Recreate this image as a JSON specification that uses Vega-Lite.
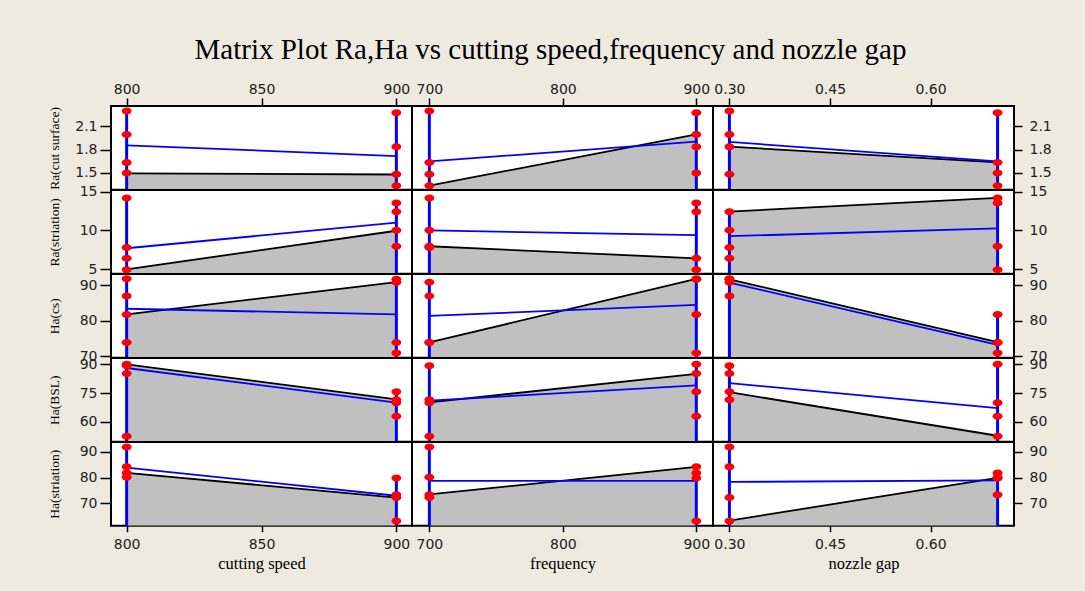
{
"$schema": "https://vega.github.io/schema/vega-lite/v6.json",
"background": "#EEEAE0",
"padding": {"left": 46, "top": 36, "right": 30, "bottom": 18},
"bounds": "flush",
"spacing": 0,
"columns": 3,
"title": {"text": "Matrix Plot Ra,Ha vs cutting speed,frequency and nozzle gap", "font": "Liberation Serif", "fontSize": 29, "fontWeight": "normal", "color": "black", "anchor": "middle", "frame": "bounds", "offset": 16},
"datasets": {
"runs": [
{"speed":800,"freq":700,"gap":0.30,"rcs":2.298,"rst":7.80,"hcs":87.0,"hbsl":89.2,"hst":91.9},
{"speed":800,"freq":900,"gap":0.30,"rcs":1.997,"rst":6.42,"hcs":91.85,"hbsl":85.2,"hst":84.2},
{"speed":800,"freq":700,"gap":0.70,"rcs":1.636,"rst":14.18,"hcs":73.9,"hbsl":52.6,"hst":80.1},
{"speed":800,"freq":900,"gap":0.70,"rcs":1.50,"rst":4.95,"hcs":81.8,"hbsl":90.0,"hst":81.8},
{"speed":900,"freq":900,"gap":0.70,"rcs":2.277,"rst":13.53,"hcs":70.9,"hbsl":62.95,"hst":79.85},
{"speed":900,"freq":900,"gap":0.30,"rcs":1.839,"rst":12.42,"hcs":91.7,"hbsl":75.7,"hst":63.0},
{"speed":900,"freq":700,"gap":0.30,"rcs":1.482,"rst":10.04,"hcs":90.9,"hbsl":71.6,"hst":72.2},
{"speed":900,"freq":700,"gap":0.70,"rcs":1.336,"rst":7.97,"hcs":73.9,"hbsl":70.0,"hst":73.3}
],
"lines": [
{"p":"11","k":"m","speed":800,"rcs":1.856},{"p":"11","k":"m","speed":900,"rcs":1.718},
{"p":"11","k":"b","speed":800,"rcs":1.495},{"p":"11","k":"b","speed":900,"rcs":1.48},
{"p":"11","k":"t","speed":800,"rcs":2.298},{"p":"11","k":"t","speed":900,"rcs":2.277},
{"p":"12","k":"m","freq":700,"rcs":1.649},{"p":"12","k":"m","freq":900,"rcs":1.903},
{"p":"12","k":"b","freq":700,"rcs":1.336},{"p":"12","k":"b","freq":900,"rcs":1.997},
{"p":"12","k":"t","freq":700,"rcs":2.298},{"p":"12","k":"t","freq":900,"rcs":2.277},
{"p":"13","k":"m","gap":0.30,"rcs":1.90},{"p":"13","k":"m","gap":0.70,"rcs":1.649},
{"p":"13","k":"b","gap":0.30,"rcs":1.839},{"p":"13","k":"b","gap":0.70,"rcs":1.636},
{"p":"13","k":"t","gap":0.30,"rcs":2.298},{"p":"13","k":"t","gap":0.70,"rcs":2.277},
{"p":"21","k":"m","speed":800,"rst":7.71},{"p":"21","k":"m","speed":900,"rst":11.0},
{"p":"21","k":"b","speed":800,"rst":5.0},{"p":"21","k":"b","speed":900,"rst":9.96},
{"p":"21","k":"t","speed":800,"rst":14.18},{"p":"21","k":"t","speed":900,"rst":13.53},
{"p":"22","k":"m","freq":700,"rst":10.0},{"p":"22","k":"m","freq":900,"rst":9.4},
{"p":"22","k":"b","freq":700,"rst":7.97},{"p":"22","k":"b","freq":900,"rst":6.42},
{"p":"22","k":"t","freq":700,"rst":14.18},{"p":"22","k":"t","freq":900,"rst":13.53},
{"p":"23","k":"m","gap":0.30,"rst":9.26},{"p":"23","k":"m","gap":0.70,"rst":10.26},
{"p":"23","k":"b","gap":0.30,"rst":12.42},{"p":"23","k":"b","gap":0.70,"rst":14.18},
{"p":"23","k":"t","gap":0.30,"rst":12.42},{"p":"23","k":"t","gap":0.70,"rst":14.18},
{"p":"31","k":"m","speed":800,"hcs":83.4},{"p":"31","k":"m","speed":900,"hcs":81.8},
{"p":"31","k":"b","speed":800,"hcs":81.8},{"p":"31","k":"b","speed":900,"hcs":90.9},
{"p":"31","k":"t","speed":800,"hcs":91.85},{"p":"31","k":"t","speed":900,"hcs":91.7},
{"p":"32","k":"m","freq":700,"hcs":81.4},{"p":"32","k":"m","freq":900,"hcs":84.5},
{"p":"32","k":"b","freq":700,"hcs":73.9},{"p":"32","k":"b","freq":900,"hcs":91.85},
{"p":"32","k":"t","freq":700,"hcs":90.9},{"p":"32","k":"t","freq":900,"hcs":91.85},
{"p":"33","k":"m","gap":0.30,"hcs":90.8},{"p":"33","k":"m","gap":0.70,"hcs":73.2},
{"p":"33","k":"b","gap":0.30,"hcs":91.7},{"p":"33","k":"b","gap":0.70,"hcs":74.0},
{"p":"33","k":"t","gap":0.30,"hcs":91.85},{"p":"33","k":"t","gap":0.70,"hcs":81.8},
{"p":"41","k":"m","speed":800,"hbsl":88.1},{"p":"41","k":"m","speed":900,"hbsl":70.0},
{"p":"41","k":"b","speed":800,"hbsl":90.0},{"p":"41","k":"b","speed":900,"hbsl":71.8},
{"p":"41","k":"t","speed":800,"hbsl":90.0},{"p":"41","k":"t","speed":900,"hbsl":75.7},
{"p":"42","k":"m","freq":700,"hbsl":71.1},{"p":"42","k":"m","freq":900,"hbsl":79.0},
{"p":"42","k":"b","freq":700,"hbsl":70.2},{"p":"42","k":"b","freq":900,"hbsl":85.0},
{"p":"42","k":"t","freq":700,"hbsl":89.2},{"p":"42","k":"t","freq":900,"hbsl":90.0},
{"p":"43","k":"m","gap":0.30,"hbsl":80.2},{"p":"43","k":"m","gap":0.70,"hbsl":67.2},
{"p":"43","k":"b","gap":0.30,"hbsl":75.5},{"p":"43","k":"b","gap":0.70,"hbsl":52.8},
{"p":"43","k":"t","gap":0.30,"hbsl":89.2},{"p":"43","k":"t","gap":0.70,"hbsl":90.0},
{"p":"51","k":"m","speed":800,"hst":83.9},{"p":"51","k":"m","speed":900,"hst":72.9},
{"p":"51","k":"b","speed":800,"hst":81.8},{"p":"51","k":"b","speed":900,"hst":72.2},
{"p":"51","k":"t","speed":800,"hst":91.9},{"p":"51","k":"t","speed":900,"hst":79.85},
{"p":"52","k":"m","freq":700,"hst":78.7},{"p":"52","k":"m","freq":900,"hst":78.7},
{"p":"52","k":"b","freq":700,"hst":73.4},{"p":"52","k":"b","freq":900,"hst":84.2},
{"p":"52","k":"t","freq":700,"hst":91.9},{"p":"52","k":"t","freq":900,"hst":84.2},
{"p":"53","k":"m","gap":0.30,"hst":78.3},{"p":"53","k":"m","gap":0.70,"hst":78.9},
{"p":"53","k":"b","gap":0.30,"hst":63.2},{"p":"53","k":"b","gap":0.70,"hst":79.9},
{"p":"53","k":"t","gap":0.30,"hst":91.9},{"p":"53","k":"t","gap":0.70,"hst":81.8}
]
},
"concat": [
{"width": 301, "height": 83.7,
 "encoding": {"x": {"field": "speed", "type": "quantitative", "scale": {"domain": [794.2, 905.8], "nice": false, "zero": false}, "axis": {"orient": "top", "values": [800, 850, 900], "title": null, "tickSize": 8, "labelPadding": 2}},
  "y": {"field": "rcs", "type": "quantitative", "scale": {"domain": [1.284, 2.363], "nice": false, "zero": false}, "axis": {"orient": "left", "values": [1.5, 1.8, 2.1], "format": ".1f", "title": "Ra(cut surface)", "tickSize": 11, "labelPadding": 3, "minExtent": 40, "maxExtent": 40, "titlePadding": 10}}},
 "layer": [
  {"data": {"name": "lines"}, "transform": [{"filter": "datum.p=='11'&&datum.k=='b'"}], "mark": {"type": "area", "color": "#C0C0C0", "opacity": 1, "clip": true, "line": {"color": "black", "strokeWidth": 1.8}}, "encoding": {"y2": {"datum": 1.284}}},
  {"data": {"name": "lines"}, "transform": [{"filter": "datum.p=='11'&&datum.k=='t'"}], "mark": {"type": "rule", "color": "#0000FF", "strokeWidth": 3}, "encoding": {"y2": {"datum": 1.284}}},
  {"data": {"name": "lines"}, "transform": [{"filter": "datum.p=='11'&&datum.k=='m'"}], "mark": {"type": "line", "color": "#0000FF", "strokeWidth": 1.8}},
  {"data": {"name": "runs"}, "mark": {"type": "point", "shape": "M -1 0 A 1 0.7 0 1 0 1 0 A 1 0.7 0 1 0 -1 0 Z", "filled": true, "color": "#FF0000", "opacity": 1, "size": 100}}
 ]},
{"width": 301, "height": 83.7,
 "encoding": {"x": {"field": "freq", "type": "quantitative", "scale": {"domain": [687, 912.5], "nice": false, "zero": false}, "axis": {"orient": "top", "values": [700, 800, 900], "title": null, "tickSize": 8, "labelPadding": 2}},
  "y": {"field": "rcs", "type": "quantitative", "scale": {"domain": [1.284, 2.363], "nice": false, "zero": false}, "axis": null}},
 "layer": [
  {"data": {"name": "lines"}, "transform": [{"filter": "datum.p=='12'&&datum.k=='b'"}], "mark": {"type": "area", "color": "#C0C0C0", "opacity": 1, "clip": true, "line": {"color": "black", "strokeWidth": 1.8}}, "encoding": {"y2": {"datum": 1.284}}},
  {"data": {"name": "lines"}, "transform": [{"filter": "datum.p=='12'&&datum.k=='t'"}], "mark": {"type": "rule", "color": "#0000FF", "strokeWidth": 3}, "encoding": {"y2": {"datum": 1.284}}},
  {"data": {"name": "lines"}, "transform": [{"filter": "datum.p=='12'&&datum.k=='m'"}], "mark": {"type": "line", "color": "#0000FF", "strokeWidth": 1.8}},
  {"data": {"name": "runs"}, "mark": {"type": "point", "shape": "M -1 0 A 1 0.7 0 1 0 1 0 A 1 0.7 0 1 0 -1 0 Z", "filled": true, "color": "#FF0000", "opacity": 1, "size": 100}}
 ]},
{"width": 301, "height": 83.7,
 "encoding": {"x": {"field": "gap", "type": "quantitative", "scale": {"domain": [0.2755, 0.7245], "nice": false, "zero": false}, "axis": {"orient": "top", "values": [0.3, 0.45, 0.6], "format": ".2f", "title": null, "tickSize": 8, "labelPadding": 2}},
  "y": {"field": "rcs", "type": "quantitative", "scale": {"domain": [1.284, 2.363], "nice": false, "zero": false}, "axis": {"orient": "right", "values": [1.5, 1.8, 2.1], "format": ".1f", "title": null, "tickSize": 8, "labelPadding": 7, "minExtent": 40, "maxExtent": 40}}},
 "layer": [
  {"data": {"name": "lines"}, "transform": [{"filter": "datum.p=='13'&&datum.k=='b'"}], "mark": {"type": "area", "color": "#C0C0C0", "opacity": 1, "clip": true, "line": {"color": "black", "strokeWidth": 1.8}}, "encoding": {"y2": {"datum": 1.284}}},
  {"data": {"name": "lines"}, "transform": [{"filter": "datum.p=='13'&&datum.k=='t'"}], "mark": {"type": "rule", "color": "#0000FF", "strokeWidth": 3}, "encoding": {"y2": {"datum": 1.284}}},
  {"data": {"name": "lines"}, "transform": [{"filter": "datum.p=='13'&&datum.k=='m'"}], "mark": {"type": "line", "color": "#0000FF", "strokeWidth": 1.8}},
  {"data": {"name": "runs"}, "mark": {"type": "point", "shape": "M -1 0 A 1 0.7 0 1 0 1 0 A 1 0.7 0 1 0 -1 0 Z", "filled": true, "color": "#FF0000", "opacity": 1, "size": 100}}
 ]},
{"width": 301, "height": 83.7,
 "encoding": {"x": {"field": "speed", "type": "quantitative", "scale": {"domain": [794.2, 905.8], "nice": false, "zero": false}, "axis": null},
  "y": {"field": "rst", "type": "quantitative", "scale": {"domain": [4.44, 15.2], "nice": false, "zero": false}, "axis": {"orient": "left", "values": [5, 10, 15], "title": "Ra(striation)", "tickSize": 11, "labelPadding": 3, "minExtent": 40, "maxExtent": 40, "titlePadding": 10}}},
 "layer": [
  {"data": {"name": "lines"}, "transform": [{"filter": "datum.p=='21'&&datum.k=='b'"}], "mark": {"type": "area", "color": "#C0C0C0", "opacity": 1, "clip": true, "line": {"color": "black", "strokeWidth": 1.8}}, "encoding": {"y2": {"datum": 4.44}}},
  {"data": {"name": "lines"}, "transform": [{"filter": "datum.p=='21'&&datum.k=='t'"}], "mark": {"type": "rule", "color": "#0000FF", "strokeWidth": 3}, "encoding": {"y2": {"datum": 4.44}}},
  {"data": {"name": "lines"}, "transform": [{"filter": "datum.p=='21'&&datum.k=='m'"}], "mark": {"type": "line", "color": "#0000FF", "strokeWidth": 1.8}},
  {"data": {"name": "runs"}, "mark": {"type": "point", "shape": "M -1 0 A 1 0.7 0 1 0 1 0 A 1 0.7 0 1 0 -1 0 Z", "filled": true, "color": "#FF0000", "opacity": 1, "size": 100}}
 ]},
{"width": 301, "height": 83.7,
 "encoding": {"x": {"field": "freq", "type": "quantitative", "scale": {"domain": [687, 912.5], "nice": false, "zero": false}, "axis": null},
  "y": {"field": "rst", "type": "quantitative", "scale": {"domain": [4.44, 15.2], "nice": false, "zero": false}, "axis": null}},
 "layer": [
  {"data": {"name": "lines"}, "transform": [{"filter": "datum.p=='22'&&datum.k=='b'"}], "mark": {"type": "area", "color": "#C0C0C0", "opacity": 1, "clip": true, "line": {"color": "black", "strokeWidth": 1.8}}, "encoding": {"y2": {"datum": 4.44}}},
  {"data": {"name": "lines"}, "transform": [{"filter": "datum.p=='22'&&datum.k=='t'"}], "mark": {"type": "rule", "color": "#0000FF", "strokeWidth": 3}, "encoding": {"y2": {"datum": 4.44}}},
  {"data": {"name": "lines"}, "transform": [{"filter": "datum.p=='22'&&datum.k=='m'"}], "mark": {"type": "line", "color": "#0000FF", "strokeWidth": 1.8}},
  {"data": {"name": "runs"}, "mark": {"type": "point", "shape": "M -1 0 A 1 0.7 0 1 0 1 0 A 1 0.7 0 1 0 -1 0 Z", "filled": true, "color": "#FF0000", "opacity": 1, "size": 100}}
 ]},
{"width": 301, "height": 83.7,
 "encoding": {"x": {"field": "gap", "type": "quantitative", "scale": {"domain": [0.2755, 0.7245], "nice": false, "zero": false}, "axis": null},
  "y": {"field": "rst", "type": "quantitative", "scale": {"domain": [4.44, 15.2], "nice": false, "zero": false}, "axis": {"orient": "right", "values": [5, 10, 15], "title": null, "tickSize": 8, "labelPadding": 7, "minExtent": 40, "maxExtent": 40}}},
 "layer": [
  {"data": {"name": "lines"}, "transform": [{"filter": "datum.p=='23'&&datum.k=='b'"}], "mark": {"type": "area", "color": "#C0C0C0", "opacity": 1, "clip": true, "line": {"color": "black", "strokeWidth": 1.8}}, "encoding": {"y2": {"datum": 4.44}}},
  {"data": {"name": "lines"}, "transform": [{"filter": "datum.p=='23'&&datum.k=='t'"}], "mark": {"type": "rule", "color": "#0000FF", "strokeWidth": 3}, "encoding": {"y2": {"datum": 4.44}}},
  {"data": {"name": "lines"}, "transform": [{"filter": "datum.p=='23'&&datum.k=='m'"}], "mark": {"type": "line", "color": "#0000FF", "strokeWidth": 1.8}},
  {"data": {"name": "runs"}, "mark": {"type": "point", "shape": "M -1 0 A 1 0.7 0 1 0 1 0 A 1 0.7 0 1 0 -1 0 Z", "filled": true, "color": "#FF0000", "opacity": 1, "size": 100}}
 ]},
{"width": 301, "height": 83.7,
 "encoding": {"x": {"field": "speed", "type": "quantitative", "scale": {"domain": [794.2, 905.8], "nice": false, "zero": false}, "axis": null},
  "y": {"field": "hcs", "type": "quantitative", "scale": {"domain": [69.6, 93.2], "nice": false, "zero": false}, "axis": {"orient": "left", "values": [70, 80, 90], "title": "Ha(cs)", "tickSize": 11, "labelPadding": 3, "minExtent": 40, "maxExtent": 40, "titlePadding": 10}}},
 "layer": [
  {"data": {"name": "lines"}, "transform": [{"filter": "datum.p=='31'&&datum.k=='b'"}], "mark": {"type": "area", "color": "#C0C0C0", "opacity": 1, "clip": true, "line": {"color": "black", "strokeWidth": 1.8}}, "encoding": {"y2": {"datum": 69.6}}},
  {"data": {"name": "lines"}, "transform": [{"filter": "datum.p=='31'&&datum.k=='t'"}], "mark": {"type": "rule", "color": "#0000FF", "strokeWidth": 3}, "encoding": {"y2": {"datum": 69.6}}},
  {"data": {"name": "lines"}, "transform": [{"filter": "datum.p=='31'&&datum.k=='m'"}], "mark": {"type": "line", "color": "#0000FF", "strokeWidth": 1.8}},
  {"data": {"name": "runs"}, "mark": {"type": "point", "shape": "M -1 0 A 1 0.7 0 1 0 1 0 A 1 0.7 0 1 0 -1 0 Z", "filled": true, "color": "#FF0000", "opacity": 1, "size": 100}}
 ]},
{"width": 301, "height": 83.7,
 "encoding": {"x": {"field": "freq", "type": "quantitative", "scale": {"domain": [687, 912.5], "nice": false, "zero": false}, "axis": null},
  "y": {"field": "hcs", "type": "quantitative", "scale": {"domain": [69.6, 93.2], "nice": false, "zero": false}, "axis": null}},
 "layer": [
  {"data": {"name": "lines"}, "transform": [{"filter": "datum.p=='32'&&datum.k=='b'"}], "mark": {"type": "area", "color": "#C0C0C0", "opacity": 1, "clip": true, "line": {"color": "black", "strokeWidth": 1.8}}, "encoding": {"y2": {"datum": 69.6}}},
  {"data": {"name": "lines"}, "transform": [{"filter": "datum.p=='32'&&datum.k=='t'"}], "mark": {"type": "rule", "color": "#0000FF", "strokeWidth": 3}, "encoding": {"y2": {"datum": 69.6}}},
  {"data": {"name": "lines"}, "transform": [{"filter": "datum.p=='32'&&datum.k=='m'"}], "mark": {"type": "line", "color": "#0000FF", "strokeWidth": 1.8}},
  {"data": {"name": "runs"}, "mark": {"type": "point", "shape": "M -1 0 A 1 0.7 0 1 0 1 0 A 1 0.7 0 1 0 -1 0 Z", "filled": true, "color": "#FF0000", "opacity": 1, "size": 100}}
 ]},
{"width": 301, "height": 83.7,
 "encoding": {"x": {"field": "gap", "type": "quantitative", "scale": {"domain": [0.2755, 0.7245], "nice": false, "zero": false}, "axis": null},
  "y": {"field": "hcs", "type": "quantitative", "scale": {"domain": [69.6, 93.2], "nice": false, "zero": false}, "axis": {"orient": "right", "values": [70, 80, 90], "title": null, "tickSize": 8, "labelPadding": 7, "minExtent": 40, "maxExtent": 40}}},
 "layer": [
  {"data": {"name": "lines"}, "transform": [{"filter": "datum.p=='33'&&datum.k=='b'"}], "mark": {"type": "area", "color": "#C0C0C0", "opacity": 1, "clip": true, "line": {"color": "black", "strokeWidth": 1.8}}, "encoding": {"y2": {"datum": 69.6}}},
  {"data": {"name": "lines"}, "transform": [{"filter": "datum.p=='33'&&datum.k=='t'"}], "mark": {"type": "rule", "color": "#0000FF", "strokeWidth": 3}, "encoding": {"y2": {"datum": 69.6}}},
  {"data": {"name": "lines"}, "transform": [{"filter": "datum.p=='33'&&datum.k=='m'"}], "mark": {"type": "line", "color": "#0000FF", "strokeWidth": 1.8}},
  {"data": {"name": "runs"}, "mark": {"type": "point", "shape": "M -1 0 A 1 0.7 0 1 0 1 0 A 1 0.7 0 1 0 -1 0 Z", "filled": true, "color": "#FF0000", "opacity": 1, "size": 100}}
 ]},
{"width": 301, "height": 83.7,
 "encoding": {"x": {"field": "speed", "type": "quantitative", "scale": {"domain": [794.2, 905.8], "nice": false, "zero": false}, "axis": null},
  "y": {"field": "hbsl", "type": "quantitative", "scale": {"domain": [49.7, 93.3], "nice": false, "zero": false}, "axis": {"orient": "left", "values": [60, 75, 90], "title": "Ha(BSL)", "tickSize": 11, "labelPadding": 3, "minExtent": 40, "maxExtent": 40, "titlePadding": 10}}},
 "layer": [
  {"data": {"name": "lines"}, "transform": [{"filter": "datum.p=='41'&&datum.k=='b'"}], "mark": {"type": "area", "color": "#C0C0C0", "opacity": 1, "clip": true, "line": {"color": "black", "strokeWidth": 1.8}}, "encoding": {"y2": {"datum": 49.7}}},
  {"data": {"name": "lines"}, "transform": [{"filter": "datum.p=='41'&&datum.k=='t'"}], "mark": {"type": "rule", "color": "#0000FF", "strokeWidth": 3}, "encoding": {"y2": {"datum": 49.7}}},
  {"data": {"name": "lines"}, "transform": [{"filter": "datum.p=='41'&&datum.k=='m'"}], "mark": {"type": "line", "color": "#0000FF", "strokeWidth": 1.8}},
  {"data": {"name": "runs"}, "mark": {"type": "point", "shape": "M -1 0 A 1 0.7 0 1 0 1 0 A 1 0.7 0 1 0 -1 0 Z", "filled": true, "color": "#FF0000", "opacity": 1, "size": 100}}
 ]},
{"width": 301, "height": 83.7,
 "encoding": {"x": {"field": "freq", "type": "quantitative", "scale": {"domain": [687, 912.5], "nice": false, "zero": false}, "axis": null},
  "y": {"field": "hbsl", "type": "quantitative", "scale": {"domain": [49.7, 93.3], "nice": false, "zero": false}, "axis": null}},
 "layer": [
  {"data": {"name": "lines"}, "transform": [{"filter": "datum.p=='42'&&datum.k=='b'"}], "mark": {"type": "area", "color": "#C0C0C0", "opacity": 1, "clip": true, "line": {"color": "black", "strokeWidth": 1.8}}, "encoding": {"y2": {"datum": 49.7}}},
  {"data": {"name": "lines"}, "transform": [{"filter": "datum.p=='42'&&datum.k=='t'"}], "mark": {"type": "rule", "color": "#0000FF", "strokeWidth": 3}, "encoding": {"y2": {"datum": 49.7}}},
  {"data": {"name": "lines"}, "transform": [{"filter": "datum.p=='42'&&datum.k=='m'"}], "mark": {"type": "line", "color": "#0000FF", "strokeWidth": 1.8}},
  {"data": {"name": "runs"}, "mark": {"type": "point", "shape": "M -1 0 A 1 0.7 0 1 0 1 0 A 1 0.7 0 1 0 -1 0 Z", "filled": true, "color": "#FF0000", "opacity": 1, "size": 100}}
 ]},
{"width": 301, "height": 83.7,
 "encoding": {"x": {"field": "gap", "type": "quantitative", "scale": {"domain": [0.2755, 0.7245], "nice": false, "zero": false}, "axis": null},
  "y": {"field": "hbsl", "type": "quantitative", "scale": {"domain": [49.7, 93.3], "nice": false, "zero": false}, "axis": {"orient": "right", "values": [60, 75, 90], "title": null, "tickSize": 8, "labelPadding": 7, "minExtent": 40, "maxExtent": 40}}},
 "layer": [
  {"data": {"name": "lines"}, "transform": [{"filter": "datum.p=='43'&&datum.k=='b'"}], "mark": {"type": "area", "color": "#C0C0C0", "opacity": 1, "clip": true, "line": {"color": "black", "strokeWidth": 1.8}}, "encoding": {"y2": {"datum": 49.7}}},
  {"data": {"name": "lines"}, "transform": [{"filter": "datum.p=='43'&&datum.k=='t'"}], "mark": {"type": "rule", "color": "#0000FF", "strokeWidth": 3}, "encoding": {"y2": {"datum": 49.7}}},
  {"data": {"name": "lines"}, "transform": [{"filter": "datum.p=='43'&&datum.k=='m'"}], "mark": {"type": "line", "color": "#0000FF", "strokeWidth": 1.8}},
  {"data": {"name": "runs"}, "mark": {"type": "point", "shape": "M -1 0 A 1 0.7 0 1 0 1 0 A 1 0.7 0 1 0 -1 0 Z", "filled": true, "color": "#FF0000", "opacity": 1, "size": 100}}
 ]},
{"width": 301, "height": 83.7,
 "encoding": {"x": {"field": "speed", "type": "quantitative", "scale": {"domain": [794.2, 905.8], "nice": false, "zero": false}, "axis": {"orient": "bottom", "values": [800, 850, 900], "title": "cutting speed", "tickSize": 6, "labelPadding": 6, "titlePadding": 4, "titleFontSize": 16.5}},
  "y": {"field": "hst", "type": "quantitative", "scale": {"domain": [61.2, 93.9], "nice": false, "zero": false}, "axis": {"orient": "left", "values": [70, 80, 90], "title": "Ha(striation)", "tickSize": 11, "labelPadding": 3, "minExtent": 40, "maxExtent": 40, "titlePadding": 10}}},
 "layer": [
  {"data": {"name": "lines"}, "transform": [{"filter": "datum.p=='51'&&datum.k=='b'"}], "mark": {"type": "area", "color": "#C0C0C0", "opacity": 1, "clip": true, "line": {"color": "black", "strokeWidth": 1.8}}, "encoding": {"y2": {"datum": 61.2}}},
  {"data": {"name": "lines"}, "transform": [{"filter": "datum.p=='51'&&datum.k=='t'"}], "mark": {"type": "rule", "color": "#0000FF", "strokeWidth": 3}, "encoding": {"y2": {"datum": 61.2}}},
  {"data": {"name": "lines"}, "transform": [{"filter": "datum.p=='51'&&datum.k=='m'"}], "mark": {"type": "line", "color": "#0000FF", "strokeWidth": 1.8}},
  {"data": {"name": "runs"}, "mark": {"type": "point", "shape": "M -1 0 A 1 0.7 0 1 0 1 0 A 1 0.7 0 1 0 -1 0 Z", "filled": true, "color": "#FF0000", "opacity": 1, "size": 100}}
 ]},
{"width": 301, "height": 83.7,
 "encoding": {"x": {"field": "freq", "type": "quantitative", "scale": {"domain": [687, 912.5], "nice": false, "zero": false}, "axis": {"orient": "bottom", "values": [700, 800, 900], "title": "frequency", "tickSize": 6, "labelPadding": 6, "titlePadding": 4, "titleFontSize": 16.5}},
  "y": {"field": "hst", "type": "quantitative", "scale": {"domain": [61.2, 93.9], "nice": false, "zero": false}, "axis": null}},
 "layer": [
  {"data": {"name": "lines"}, "transform": [{"filter": "datum.p=='52'&&datum.k=='b'"}], "mark": {"type": "area", "color": "#C0C0C0", "opacity": 1, "clip": true, "line": {"color": "black", "strokeWidth": 1.8}}, "encoding": {"y2": {"datum": 61.2}}},
  {"data": {"name": "lines"}, "transform": [{"filter": "datum.p=='52'&&datum.k=='t'"}], "mark": {"type": "rule", "color": "#0000FF", "strokeWidth": 3}, "encoding": {"y2": {"datum": 61.2}}},
  {"data": {"name": "lines"}, "transform": [{"filter": "datum.p=='52'&&datum.k=='m'"}], "mark": {"type": "line", "color": "#0000FF", "strokeWidth": 1.8}},
  {"data": {"name": "runs"}, "mark": {"type": "point", "shape": "M -1 0 A 1 0.7 0 1 0 1 0 A 1 0.7 0 1 0 -1 0 Z", "filled": true, "color": "#FF0000", "opacity": 1, "size": 100}}
 ]},
{"width": 301, "height": 83.7,
 "encoding": {"x": {"field": "gap", "type": "quantitative", "scale": {"domain": [0.2755, 0.7245], "nice": false, "zero": false}, "axis": {"orient": "bottom", "values": [0.3, 0.45, 0.6], "format": ".2f", "title": "nozzle gap", "tickSize": 6, "labelPadding": 6, "titlePadding": 4, "titleFontSize": 16.5}},
  "y": {"field": "hst", "type": "quantitative", "scale": {"domain": [61.2, 93.9], "nice": false, "zero": false}, "axis": {"orient": "right", "values": [70, 80, 90], "title": null, "tickSize": 8, "labelPadding": 7, "minExtent": 40, "maxExtent": 40}}},
 "layer": [
  {"data": {"name": "lines"}, "transform": [{"filter": "datum.p=='53'&&datum.k=='b'"}], "mark": {"type": "area", "color": "#C0C0C0", "opacity": 1, "clip": true, "line": {"color": "black", "strokeWidth": 1.8}}, "encoding": {"y2": {"datum": 61.2}}},
  {"data": {"name": "lines"}, "transform": [{"filter": "datum.p=='53'&&datum.k=='t'"}], "mark": {"type": "rule", "color": "#0000FF", "strokeWidth": 3}, "encoding": {"y2": {"datum": 61.2}}},
  {"data": {"name": "lines"}, "transform": [{"filter": "datum.p=='53'&&datum.k=='m'"}], "mark": {"type": "line", "color": "#0000FF", "strokeWidth": 1.8}},
  {"data": {"name": "runs"}, "mark": {"type": "point", "shape": "M -1 0 A 1 0.7 0 1 0 1 0 A 1 0.7 0 1 0 -1 0 Z", "filled": true, "color": "#FF0000", "opacity": 1, "size": 100}}
 ]}
],
"config": {
 "view": {"stroke": "black", "strokeWidth": 2, "fill": "white"},
 "axis": {"domain": false, "grid": false, "labelFlush": false, "labelOverlap": false, "labelFont": "DejaVu Sans", "labelFontSize": 14, "labelColor": "#222222", "tickColor": "black", "tickWidth": 1.5, "titleFont": "Liberation Serif", "titleFontSize": 13.5, "titleFontWeight": "normal", "titleColor": "black"}
}
}
